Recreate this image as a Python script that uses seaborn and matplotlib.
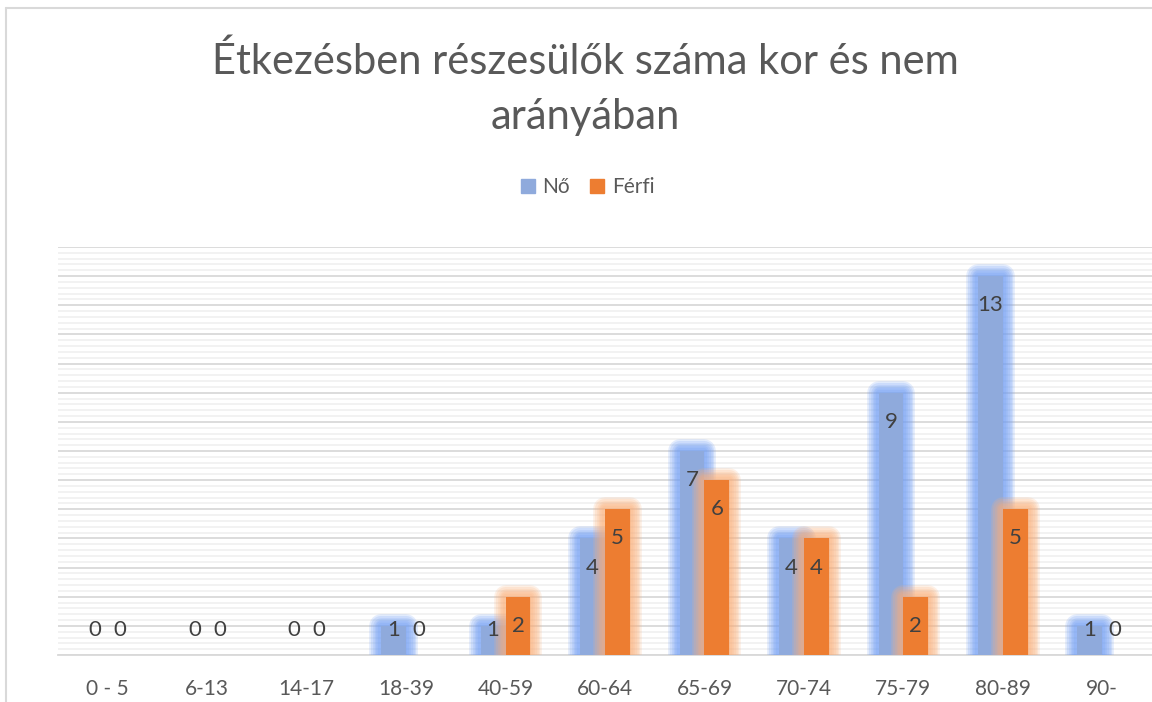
import numpy as np
import pandas as pd
import matplotlib
matplotlib.use('Agg')
import matplotlib.pyplot as plt
import matplotlib.patheffects as pe
from matplotlib.lines import Line2D
from matplotlib.ticker import MultipleLocator
import seaborn as sns

# ---------------------------------------------------------------
# Adatok
# ---------------------------------------------------------------
korcsoportok = ['0 - 5', '6-13', '14-17', '18-39', '40-59', '60-64',
                '65-69', '70-74', '75-79', '80-89', '90-']
no_ertekek = [0, 0, 0, 1, 1, 4, 7, 4, 9, 13, 1]
ferfi_ertekek = [0, 0, 0, 0, 2, 5, 6, 4, 2, 5, 0]
sorozatok = ['Nő', 'Férfi']

cim = 'Étkezésben részesülők száma kor és nem\narányában'

df = pd.DataFrame({
    'kor': korcsoportok * 2,
    'nem': ['Nő'] * len(korcsoportok) + ['Férfi'] * len(korcsoportok),
    'ertek': no_ertekek + ferfi_ertekek,
})

# ---------------------------------------------------------------
# Stílus
# ---------------------------------------------------------------
sns.set_style('white')
plt.rcParams['font.family'] = ['Lato', 'DejaVu Sans']

szinek = {'Nő': '#8faadc', 'Férfi': '#ed7d31'}
fenyek = {'Nő': '#6d9cf5', 'Férfi': '#fbb07a'}

fig = plt.figure(figsize=(11.52, 7.02), dpi=100)
ax = fig.add_axes([58 / 1152, 1 - 655 / 702, 1 - 58 / 1152, (655 - 247) / 702])

sns.barplot(data=df, x='kor', y='ertek', hue='nem', hue_order=sorozatok,
            palette=szinek, width=0.5, gap=0, saturation=1, ax=ax,
            legend=False, zorder=3)

# ragyogás (glow) effekt az oszlopok körül
for cont, nem in zip(ax.containers, sorozatok):
    for bar in cont:
        bar.set_linewidth(0)
        if bar.get_height() == 0:
            continue
        effektek = []
        for lw in [17, 14.5, 12, 9.5, 7, 4.5]:
            effektek.append(pe.withStroke(linewidth=lw, foreground=fenyek[nem],
                                          alpha=0.19, joinstyle='round'))
        effektek.append(pe.Normal())
        bar.set_path_effects(effektek)

# adatcímkék (belül a végén, nullánál a tengely felett)
for cont in ax.containers:
    for bar in cont:
        v = bar.get_height()
        x = bar.get_x() + bar.get_width() / 2
        ax.text(x, max(v - 1.0, 0.86), f'{v:.0f}', ha='center', va='center',
                fontsize=16, color='#404040', zorder=5)

# tengelyek, rácsvonalak
ax.set_xlim(-0.5, 10.5)
ax.set_ylim(0, 14)
ax.yaxis.set_major_locator(MultipleLocator(1))
ax.yaxis.set_minor_locator(MultipleLocator(0.2))
ax.grid(axis='y', which='major', color='#d9d9d9', linewidth=1.3, zorder=0)
ax.grid(axis='y', which='minor', color='#efefef', linewidth=1.1, zorder=0)
ax.set_axisbelow(True)
ax.tick_params(axis='y', which='both', left=False, labelleft=False)
ax.tick_params(axis='x', length=0, labelsize=15, labelcolor='#595959', pad=17)
for s in ['top', 'right', 'left']:
    ax.spines[s].set_visible(False)
ax.spines['bottom'].set_color('#d9d9d9')
ax.spines['bottom'].set_linewidth(1.3)
ax.set_xlabel('')
ax.set_ylabel('')

# cím és jelmagyarázat
fig.text(585 / 1152, 1 - 89 / 702, cim, ha='center', va='center', fontsize=30,
         color='#595959', linespacing=1.55)
jel = [Line2D([0], [0], marker='s', linestyle='', markersize=10,
              markerfacecolor=szinek[n], markeredgecolor=szinek[n], label=n)
       for n in sorozatok]
fig.legend(handles=jel, loc='center', bbox_to_anchor=(587 / 1152, 1 - 187 / 702),
           ncol=2, frameon=False, fontsize=15, labelcolor='#595959',
           handlelength=0.8, handletextpad=0.3, columnspacing=0.9)

# keret
fig.add_artist(Line2D([6 / 1152, 1], [1 - 8 / 702, 1 - 8 / 702],
                      transform=fig.transFigure, color='#d9d9d9', linewidth=1.5))
fig.add_artist(Line2D([6 / 1152, 6 / 1152], [0, 1 - 8 / 702],
                      transform=fig.transFigure, color='#d9d9d9', linewidth=1.5))

fig.savefig('out.png', dpi=100, facecolor='white')
